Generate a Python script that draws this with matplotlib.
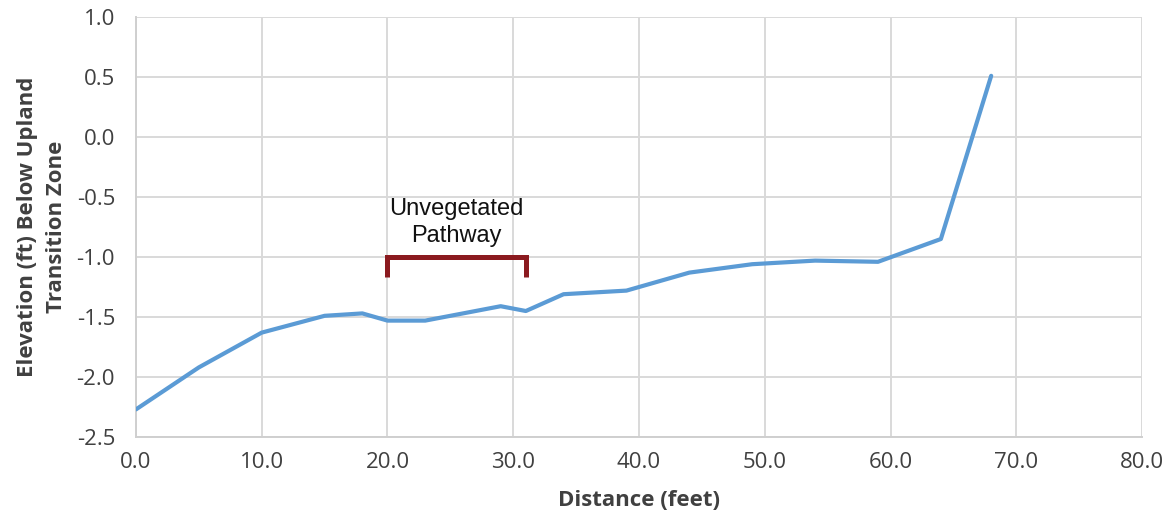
import matplotlib
matplotlib.use("Agg")
import matplotlib.pyplot as plt

# elevation profile along transect
distance = [0, 5, 10, 15, 18, 20, 23, 29, 31, 34, 39, 44, 49, 54, 59, 64, 68]
elevation = [-2.27, -1.92, -1.63, -1.49, -1.47, -1.53, -1.53, -1.41, -1.45,
             -1.31, -1.28, -1.13, -1.06, -1.03, -1.04, -0.85, 0.51]

# unvegetated pathway extent
path_start, path_end = 20, 31
path_level = -1.0
path_label = "Unvegetated\nPathway"

xticks = [0, 10, 20, 30, 40, 50, 60, 70, 80]
yticks = [1.0, 0.5, 0.0, -0.5, -1.0, -1.5, -2.0, -2.5]

fig = plt.figure(figsize=(11.69, 5.25), dpi=100)
ax = fig.add_axes([0.1163, 0.1676, 0.977 - 0.1163, 0.8])

ax.plot(distance, elevation, color="#5b9bd5", lw=3.0, solid_capstyle="round",
        zorder=3)

# bracket
ax.plot([path_start, path_start, path_end, path_end],
        [path_level - 0.17, path_level, path_level, path_level - 0.17],
        color="#8b1a1f", lw=3.6, solid_joinstyle="miter", solid_capstyle="butt",
        zorder=4)
ax.text((path_start + path_end) / 2, -0.71, path_label, ha="center",
        va="center", fontsize=17, family="Liberation Sans", color="#111111",
        linespacing=1.3)

ax.set_xlim(0, 80)
ax.set_ylim(-2.5, 1.0)
ax.set_xticks(xticks)
ax.set_yticks(yticks)
ax.set_xticklabels([f"{v:.1f}" for v in xticks])
ax.set_yticklabels([f"{v:.1f}" for v in yticks])
ax.grid(True, color="#d9d9d9", lw=1.4)
ax.set_axisbelow(True)
for s in ["top", "right"]:
    ax.spines[s].set_visible(False)
for s in ["left", "bottom"]:
    ax.spines[s].set_color("#cfcfcf")
    ax.spines[s].set_linewidth(1.4)
ax.tick_params(length=0, labelsize=16, labelcolor="#404040")
ax.tick_params(axis="y", pad=15)
ax.tick_params(axis="x", pad=11)
for lbl in ax.get_xticklabels() + ax.get_yticklabels():
    lbl.set_family("Open Sans")

ax.set_xlabel("Distance (feet)", fontsize=16, fontweight="bold",
              family="Open Sans", color="#404040", labelpad=12)
ax.set_ylabel("Elevation (ft) Below Upland\nTransition Zone", fontsize=16,
              fontweight="bold", family="Open Sans", color="#404040",
              labelpad=7, linespacing=1.5)

fig.savefig("out.png", dpi=100)
